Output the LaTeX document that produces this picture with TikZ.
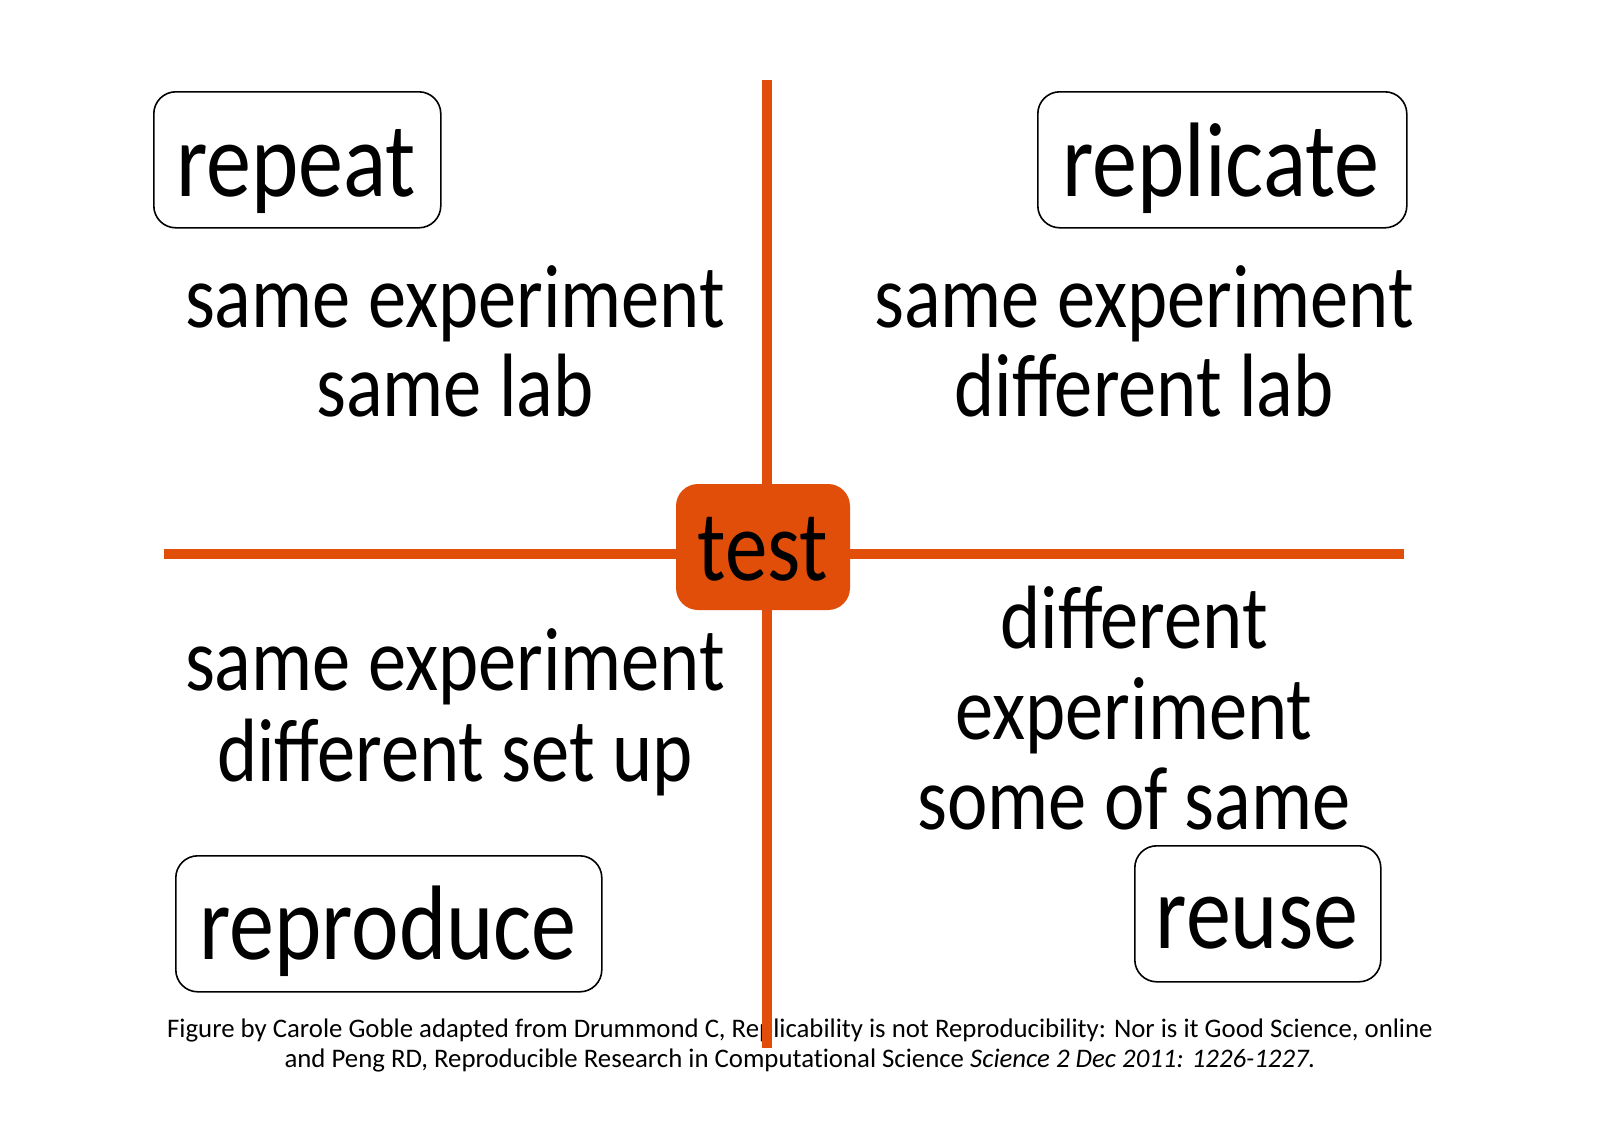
\documentclass[tikz,border=0pt]{standalone}
\usepackage{fontspec}
\setmainfont[FakeStretch=0.85]{Carlito}
\newfontfamily\capfont[RawFeature=-liga]{Carlito}
\definecolor{testorange}{RGB}{224,78,10}
\begin{document}
\begin{tikzpicture}[x=0.5pt,y=-0.5pt,
  box/.style={draw=black, line width=0.8pt, rounded corners=11pt, inner sep=0pt, anchor=north west},
  big/.style={font=\fontsize{53}{60}\selectfont, anchor=base, inner sep=0pt},
  body/.style={font=\fontsize{45}{45}\selectfont, anchor=base, inner sep=0pt},
  captext/.style={font=\capfont\fontsize{13.4}{16}\selectfont, anchor=base, inner sep=0pt},
  axis/.style={draw=testorange, line width=5pt}]
\useasboundingbox[fill=white] (0,0) rectangle (1600,1130);

% boxes
\node[box, minimum width=143.5pt, minimum height=68pt] (repeatbox) at (153,91) {};
\node[box, minimum width=184.5pt, minimum height=68pt] (replicatebox) at (1037,91) {};
\node[box, minimum width=213pt, minimum height=68pt] (reproducebox) at (175,855) {};
\node[box, minimum width=123pt, minimum height=68pt] (reusebox) at (1134,845) {};

\node[big] (repeat) at (296,196) {repeat};
\node[big] (replicate) at (1221,196) {replicate};
\node[big] (reproduce) at (388,959) {reproduce};
\node[big] (reuse) at (1257,948) {reuse};

% quadrant texts
\node[body] (tl1) at (455,327) {same experiment};
\node[body] (tl2) at (455,416) {same lab};
\node[body] (tr1) at (1144,327) {same experiment};
\node[body] (tr2) at (1144,416) {different lab};
\node[body] (bl1) at (455,690) {same experiment};
\node[body] (bl2) at (455,781) {different set up};
\node[body] (br1) at (1134,648) {different};
\node[body] (br2) at (1134,739) {experiment};
\node[body] (br3) at (1134,829) {some of same};

% caption
\node[captext] (cap1) at (800,1037) {Figure by Carole Goble adapted from Drummond C, Replicability is not Reproducibility: Nor is it Good Science, online};
\node[captext] (cap2) at (800,1067) {and Peng RD, Reproducible Research in Computational Science \textit{Science 2 Dec 2011: 1226-1227.}};

% axes
\coordinate (vtop) at (767,80);
\coordinate (vbot) at (767,1048);
\coordinate (hleft) at (164,554);
\coordinate (hright) at (1404,554);
\draw[axis] (vtop) -- (vbot);
\draw[axis] (hleft) -- (hright);

% center
\node[fill=testorange, rounded corners=11pt, minimum width=87pt, minimum height=63pt, inner sep=0pt] (testbox) at (763,547) {};
\node[font=\fontsize{50}{55}\selectfont, anchor=base, inner sep=0pt] (test) at (763,580) {test};
\end{tikzpicture}
\end{document}
